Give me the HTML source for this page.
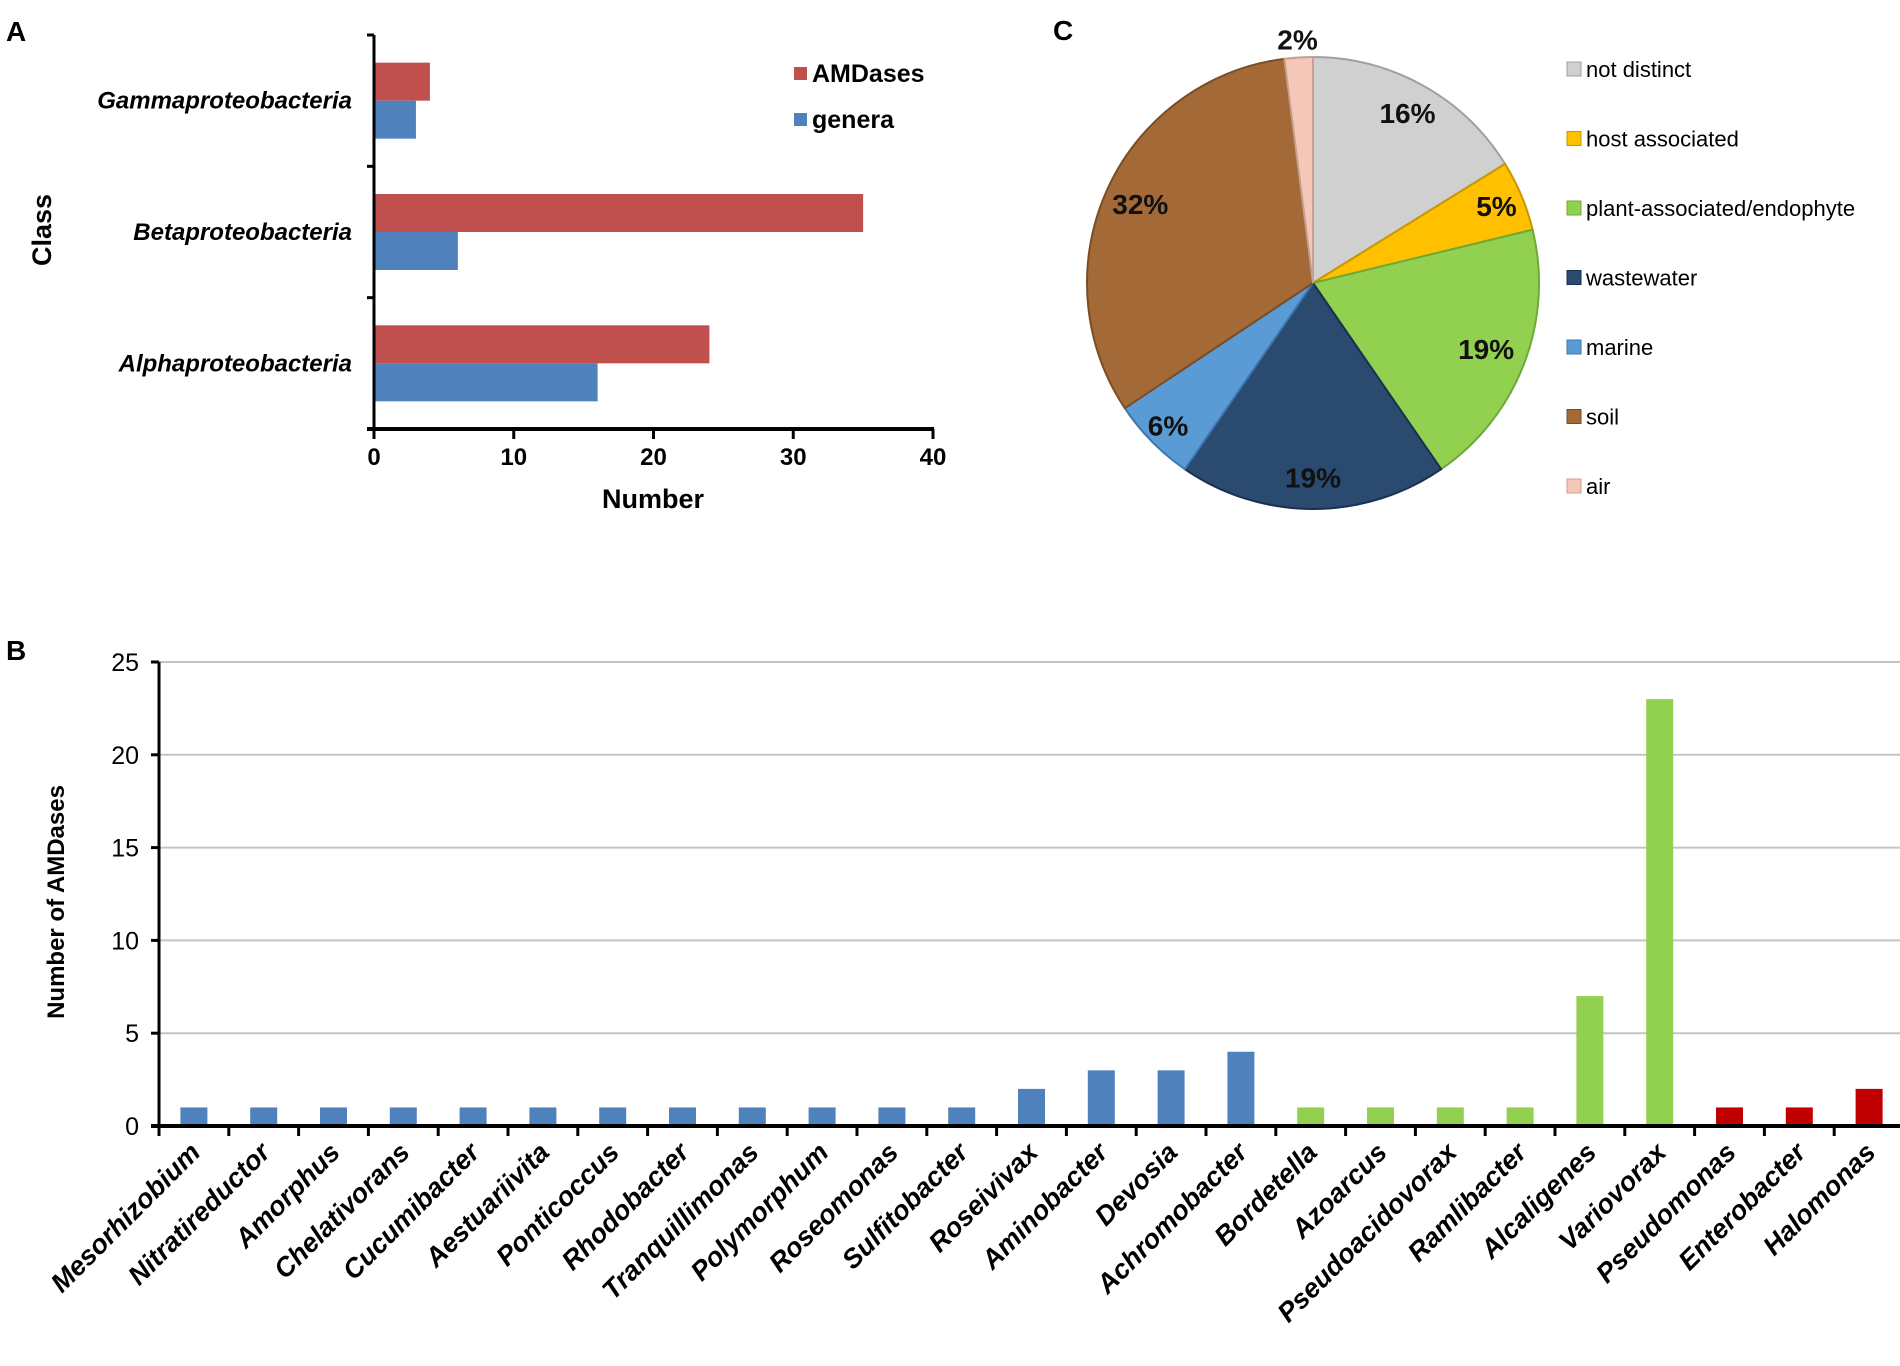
<!DOCTYPE html>
<html><head><meta charset="utf-8">
<style>
html,body{margin:0;padding:0;background:#fff;}
svg{display:block;font-family:"Liberation Sans",Arial,sans-serif;}
</style></head>
<body>
<svg id="fig" width="1900" height="1366" viewBox="0 0 1900 1366" xmlns="http://www.w3.org/2000/svg">
<g id="panelA"></g>
<g id="panelB"></g>
<g id="panelC"></g>
</svg>
<script>
// Panel A data
const aCategories = ["Gammaproteobacteria","Betaproteobacteria","Alphaproteobacteria"];
const aAMDases = [4, 35, 24];
const aGenera = [3, 6, 16];
const aTicks = [0, 10, 20, 30, 40];
// Panel B data
const bCategories = ["Mesorhizobium","Nitratireductor","Amorphus","Chelativorans","Cucumibacter","Aestuariivita","Ponticoccus","Rhodobacter","Tranquillimonas","Polymorphum","Roseomonas","Sulfitobacter","Roseivivax","Aminobacter","Devosia","Achromobacter","Bordetella","Azoarcus","Pseudoacidovorax","Ramlibacter","Alcaligenes","Variovorax","Pseudomonas","Enterobacter","Halomonas"];
const bValues = [1,1,1,1,1,1,1,1,1,1,1,1,2,3,3,4,1,1,1,1,7,23,1,1,2];
const bGroups = ["a","a","a","a","a","a","a","a","a","a","a","a","a","a","a","a","b","b","b","b","b","b","g","g","g"];
const bTicks = [0,5,10,15,20,25];
// Panel C data
const cLabels = ["not distinct","host associated","plant-associated/endophyte","wastewater","marine","soil","air"];
const cValues = [16,5,19,19,6,32,2];
const cPctText = ["16%","5%","19%","19%","6%","32%","2%"];

const NS="http://www.w3.org/2000/svg";
function mk(parent,tag,attrs,text){const e=document.createElementNS(NS,tag);for(const k in attrs)e.setAttribute(k,attrs[k]);if(text!==undefined)e.textContent=text;parent.appendChild(e);return e;}

// ---------- Panel A ----------
(function(){
const g=document.getElementById('panelA');
const x0=374,x1=933,yT=35,yB=429;
const xs=v=>x0+(v-0)/(40-0)*(x1-x0);
const band=(yB-yT)/aCategories.length;
let t;
t=mk(g,'text',{x:6,y:41,'font-size':28,'font-weight':'bold'},'A');


aCategories.forEach((c,i)=>{
  const cy=yT+band*i+band/2;
  let r=mk(g,'rect',{x:x0,y:cy-38,width:xs(aAMDases[i])-x0,height:38,fill:'#c0504d'});
  
  
  r=mk(g,'rect',{x:x0,y:cy,width:xs(aGenera[i])-x0,height:38,fill:'#4f81bd'});
  
  
  let l=mk(g,'text',{x:352,y:cy+8,'font-size':24,'font-weight':'bold','font-style':'italic','text-anchor':'end'},c);
  
  
});
for(let i=0;i<=aCategories.length;i++){const y=yT+band*i;mk(g,'line',{x1:x0-7,x2:x0,y1:y,y2:y,stroke:'#000','stroke-width':3});}
let ax=mk(g,'line',{x1:x0,x2:x0,y1:yT,y2:yB,stroke:'#000','stroke-width':3});


ax=mk(g,'line',{x1:x0-7,x2:x1+1,y1:yB,y2:yB,stroke:'#000','stroke-width':4});


aTicks.forEach(v=>{
  mk(g,'line',{x1:xs(v),x2:xs(v),y1:yB,y2:yB+10,stroke:'#000','stroke-width':3});
  let l=mk(g,'text',{x:xs(v),y:465,'font-size':24,'font-weight':'bold','text-anchor':'middle'},String(v));
  
  
});
t=mk(g,'text',{x:653,y:508,'font-size':27,'font-weight':'bold','text-anchor':'middle'},'Number');


t=mk(g,'text',{x:0,y:0,'font-size':27,'font-weight':'bold','text-anchor':'middle',transform:'translate(51,230) rotate(-90)'},'Class');


let s=mk(g,'rect',{x:794,y:67,width:13,height:13,fill:'#c0504d'});


t=mk(g,'text',{x:812,y:82,'font-size':25,'font-weight':'bold'},'AMDases');


s=mk(g,'rect',{x:794,y:113,width:13,height:13,fill:'#4f81bd'});


t=mk(g,'text',{x:812,y:128,'font-size':25,'font-weight':'bold'},'genera');


})();

// ---------- Panel B ----------
(function(){
const g=document.getElementById('panelB');
const x0=159,x1=1900,y0=1126,y25=662;
const ys=v=>y0-(v/25)*(y0-y25);
const band=69.8;
const colors={a:'#4f81bd',b:'#92d050',g:'#c00000'};
let t=mk(g,'text',{x:6,y:660,'font-size':28,'font-weight':'bold'},'B');


bTicks.forEach(v=>{
  if(v>0){let gl=mk(g,'line',{x1:x0,x2:x1,y1:ys(v),y2:ys(v),stroke:'#c4c4c4','stroke-width':2});
  
  }
  mk(g,'line',{x1:x0-8,x2:x0,y1:ys(v),y2:ys(v),stroke:'#000','stroke-width':3});
  let l=mk(g,'text',{x:139,y:ys(v)+9,'font-size':25,'text-anchor':'end'},String(v));
  
  
});
bCategories.forEach((c,i)=>{
  const cx=x0+band*i+band/2;
  let r=mk(g,'rect',{x:cx-13.5,y:ys(bValues[i]),width:27,height:y0-ys(bValues[i]),fill:colors[bGroups[i]]});
  
  
  let l=mk(g,'text',{x:0,y:0,'font-size':27,'font-weight':'bold','font-style':'italic','text-anchor':'end',transform:`translate(${cx+8},${y0+28}) rotate(-45)`},c);
  
  
});
for(let i=0;i<=bCategories.length;i++){const x=x0+band*i;mk(g,'line',{x1:x,x2:x,y1:y0,y2:y0+10,stroke:'#000','stroke-width':3});}
let ax=mk(g,'line',{x1:x0,x2:x0,y1:y25,y2:y0,stroke:'#000','stroke-width':3});


ax=mk(g,'line',{x1:x0-8,x2:x1,y1:y0,y2:y0,stroke:'#000','stroke-width':4});


t=mk(g,'text',{x:0,y:0,'font-size':24,'font-weight':'bold','text-anchor':'middle',transform:'translate(64,902) rotate(-90)'},'Number of AMDases');


})();

// ---------- Panel C ----------
(function(){
const g=document.getElementById('panelC');
const cx=1313,cy=283,R=226;
const colors=['#d0d0d0','#ffc000','#92d050','#2b4a6f','#5b9bd5','#a36a38','#f4c7b8'];
const strokes=['#a0a0a0','#c89600','#6fa83a','#1a3050','#3d75ad','#7a4d25','#c8a090'];
const total=cValues.reduce((a,b)=>a+b,0);
let t=mk(g,'text',{x:1053,y:40,'font-size':28,'font-weight':'bold'},'C');


let a=0;
const labelR=[0.86,0.88,0.82,0.86,0.9,0.84,1.08];
cValues.forEach((v,i)=>{
  const a0=a,a1=a+v/total*2*Math.PI;a=a1;
  const p=ang=>[cx+R*Math.sin(ang),cy-R*Math.cos(ang)];
  const [sx,sy]=p(a0),[ex,ey]=p(a1);
  const large=(a1-a0)>Math.PI?1:0;
  let s=mk(g,'path',{d:`M${cx},${cy} L${sx},${sy} A${R},${R} 0 ${large} 1 ${ex},${ey} Z`,fill:colors[i],stroke:strokes[i],'stroke-width':2});
  
  
  const m=(a0+a1)/2,lr=R*labelR[i];
  let l=mk(g,'text',{x:cx+lr*Math.sin(m),y:cy-lr*Math.cos(m)+10,'font-size':28,'font-weight':'bold','text-anchor':'middle',fill:'#111'},cPctText[i]);
  
  
  const ly=69+i*69.5;
  let sw=mk(g,'rect',{x:1567,y:ly-7,width:14,height:14,fill:colors[i],stroke:strokes[i],'stroke-width':1});
  
  
  let lt=mk(g,'text',{x:1586,y:ly+8,'font-size':22},cLabels[i]);
  
  
});
})();
</script>
</body></html>
